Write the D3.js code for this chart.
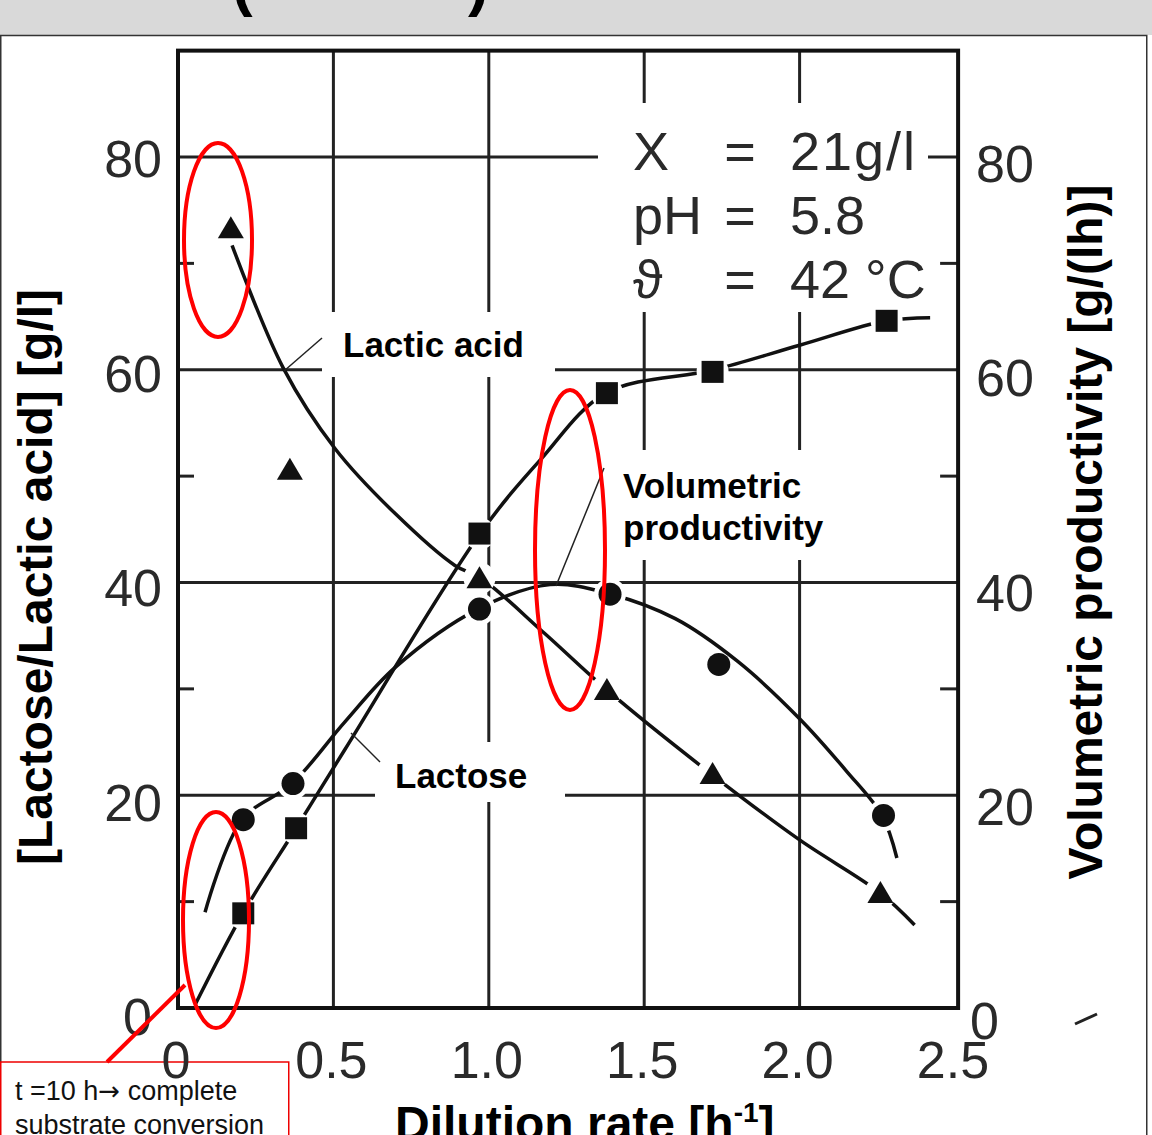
<!DOCTYPE html>
<html>
<head>
<meta charset="utf-8">
<script src="https://cdn.jsdelivr.net/npm/d3@7"></script>
<style>
  body { margin: 0; background: #fff; }
  svg { display: block; }
  .tick-label { font-family: "Liberation Sans", Arial, sans-serif; font-size: 52px; fill: #2a2a2a; }
  .cond { font-family: "Liberation Sans", Arial, sans-serif; font-size: 54px; fill: #2a2a2a; }
  .lbl { font-family: "Liberation Sans", Arial, sans-serif; font-weight: bold; font-size: 35px; fill: #000; }
  .title { font-family: "Liberation Sans", Arial, sans-serif; font-weight: bold; font-size: 48px; fill: #000; }
  .note { font-family: "Liberation Sans Narrow", "Liberation Sans", sans-serif; font-size: 27px; fill: #111; }
</style>
</head>
<body>
<script>
// measured points (dilution rate [1/h], value)
const lacticX = [0.17, 0.36, 0.97, 1.38, 1.72, 2.26]
const lacticY = [73.3, 50.6, 40.4, 29.9, 22.0, 10.8]
const lactoseX = [0.21, 0.38, 0.97, 1.38, 1.72, 2.28]
const lactoseY = [8.9, 16.9, 44.6, 57.8, 59.8, 64.6]
const prodX = [0.21, 0.37, 0.97, 1.39, 1.74, 2.27]
const prodY = [17.7, 21.1, 37.5, 38.9, 32.3, 18.1]
// points lying off the drawn curve (no line break around them)
const offCurve = ['0.36,50.6', '1.74,32.3']

// hand drawn fitting curves
const lacticCurveX = [0.174, 0.338, 0.505, 0.698, 0.891, 0.975, 1.18, 1.38, 1.72, 2.0, 2.26, 2.37]
const lacticCurveY = [71.7, 60.2, 52.6, 46.5, 41.6, 40.4, 35.2, 29.9, 21.9, 15.8, 10.8, 7.8]
const lactoseCurveX = [0.055, 0.209, 0.38, 0.537, 0.972, 1.165, 1.377, 1.725, 2.0, 2.278, 2.42]
const lactoseCurveY = [0.3, 8.9, 16.9, 24.3, 44.6, 51.5, 57.8, 60.0, 62.3, 64.6, 64.9]
const prodCurveX = [0.087, 0.206, 0.367, 0.537, 0.698, 0.965, 1.197, 1.393, 1.60, 1.80, 2.0, 2.15, 2.265, 2.313]
const prodCurveY = [9.0, 17.7, 21.1, 26.9, 32.0, 37.5, 39.8, 38.9, 36.6, 32.6, 27.2, 22.3, 18.1, 14.1]

const xTicks = [0, 0.5, 1.0, 1.5, 2.0, 2.5]
const xTickLabels = ['0', '0.5', '1.0', '1.5', '2.0', '2.5']
const yTicks = [0, 20, 40, 60, 80]
const yMinor = [10, 30, 50, 70]
const conditions = [['X', '=', '21g/l'], ['pH', '=', '5.8'], ['ϑ', '=', '42 °C']]

const W = 1152, H = 1135
const x = d3.scaleLinear().domain([0, 2.5]).range([178, 955])
const y = d3.scaleLinear().domain([0, 80]).range([1008, 157])
// scanned labels drift a bit downwards
const yLabL = d3.scaleLinear().domain([0, 80]).range([1016, 158])
const yLabR = d3.scaleLinear().domain([0, 80]).range([1020, 163])

const svg = d3.select('body').append('svg').attr('width', W).attr('height', H)

// slide header strip
svg.append('rect').attr('width', W).attr('height', 35).attr('fill', '#d9d9d9')
svg.append('text').attr('class', 'title').attr('x', 232).attr('y', 4).style('font-size', '62px').text('(')
svg.append('text').attr('class', 'title').attr('x', 468).attr('y', 4).style('font-size', '62px').text(')')
svg.append('rect').attr('x', 0.75).attr('y', 35.5).attr('width', 1146).attr('height', 1110)
  .attr('fill', '#fff').attr('stroke', '#333').attr('stroke-width', 1.5)

// red note box sits under the axis numbers
svg.append('rect').attr('x', 0.75).attr('y', 1062).attr('width', 288).attr('height', 90)
  .attr('fill', '#fff').attr('stroke', '#e00').attr('stroke-width', 1.5)

const plot = svg.append('g')
const grid = plot.append('g').attr('stroke', '#222').attr('stroke-width', 3)

// gridlines
grid.selectAll('.vg').data(xTicks.slice(1, 5)).enter().append('line')
  .attr('x1', d => x(d)).attr('x2', d => x(d)).attr('y1', y(90)).attr('y2', y(0))
grid.selectAll('.hg').data(yTicks.slice(1)).enter().append('line')
  .attr('x1', x(0)).attr('x2', x(2.51)).attr('y1', d => y(d)).attr('y2', d => y(d))
grid.selectAll('.ml').data(yMinor).enter().append('line')
  .attr('x1', x(0)).attr('x2', x(0) + 16).attr('y1', d => y(d)).attr('y2', d => y(d))
grid.selectAll('.mr').data(yMinor).enter().append('line')
  .attr('x1', x(2.51) - 18).attr('x2', x(2.51)).attr('y1', d => y(d)).attr('y2', d => y(d))

// white patches behind texts (as in the source figure)
const patches = [[598, 103, 330, 209], [322, 312, 233, 65], [600, 450, 240, 110], [375, 742, 190, 60]]
plot.selectAll('.patch').data(patches).enter().append('rect')
  .attr('x', d => d[0]).attr('y', d => d[1]).attr('width', d => d[2]).attr('height', d => d[3])
  .attr('fill', '#fff')

// frame
plot.append('rect').attr('x', x(0)).attr('y', y(90)).attr('width', x(2.51) - x(0)).attr('height', y(0) - y(90))
  .attr('fill', 'none').attr('stroke', '#111').attr('stroke-width', 4)

// curves
const line = d3.line().x(d => x(d[0])).y(d => y(d[1])).curve(d3.curveCatmullRom.alpha(0.5))
const curves = [d3.zip(lacticCurveX, lacticCurveY), d3.zip(lactoseCurveX, lactoseCurveY), d3.zip(prodCurveX, prodCurveY)]
plot.selectAll('.curve').data(curves).enter().append('path')
  .attr('d', line).attr('fill', 'none').attr('stroke', '#111').attr('stroke-width', 3.5)

// halos break the lines around markers
const allPts = [].concat(d3.zip(lacticX, lacticY), d3.zip(lactoseX, lactoseY), d3.zip(prodX, prodY))
  .filter(d => !offCurve.includes(d.join(',')))
plot.selectAll('.halo').data(allPts).enter().append('circle')
  .attr('cx', d => x(d[0])).attr('cy', d => y(d[1])).attr('r', 16).attr('fill', '#fff')

// markers
plot.selectAll('.tri').data(d3.zip(lacticX, lacticY)).enter().append('path')
  .attr('transform', d => `translate(${x(d[0])},${y(d[1])})`)
  .attr('d', 'M0,-12L13,10L-13,10Z').attr('fill', '#111')
plot.selectAll('.sq').data(d3.zip(lactoseX, lactoseY)).enter().append('rect')
  .attr('x', d => x(d[0]) - 11).attr('y', d => y(d[1]) - 11).attr('width', 22).attr('height', 22)
  .attr('fill', '#111')
plot.selectAll('.dot').data(d3.zip(prodX, prodY)).enter().append('circle')
  .attr('cx', d => x(d[0])).attr('cy', d => y(d[1])).attr('r', 11.5).attr('fill', '#111')

// tick labels
plot.selectAll('.xl').data(xTicks).enter().append('text').attr('class', 'tick-label')
  .attr('x', d => x(d) - 2).attr('y', 1078).attr('text-anchor', 'middle')
  .text((d, i) => xTickLabels[i])
plot.selectAll('.yl').data(yTicks).enter().append('text').attr('class', 'tick-label')
  .attr('x', d => d == 0 ? 152 : 162).attr('y', d => yLabL(d) + 19).attr('text-anchor', 'end')
  .text(d => d)
plot.selectAll('.yr').data(yTicks).enter().append('text').attr('class', 'tick-label')
  .attr('x', d => d == 0 ? 970 : 976).attr('y', d => yLabR(d) + 19)
  .text(d => d)

// experiment conditions
const cond = plot.append('g')
cond.selectAll('g').data(conditions).enter().append('g')
  .attr('transform', (d, i) => `translate(0,${170 + i * 64})`)
  .each(function (d, i) {
    const g = d3.select(this)
    g.append('text').attr('class', 'cond').attr('x', 633).text(d[0])
    g.append('text').attr('class', 'cond').attr('x', 740).attr('text-anchor', 'middle').text(d[1])
    g.append('text').attr('class', 'cond').attr('x', 790).style('letter-spacing', i == 0 ? '2px' : '0px').text(d[2])
  })

// series labels + leader lines
const leaders = [[322, 338, 284, 371], [604, 468, 556, 586], [380, 762, 351, 733]]
plot.selectAll('.lead').data(leaders).enter().append('line')
  .attr('x1', d => d[0]).attr('y1', d => d[1]).attr('x2', d => d[2]).attr('y2', d => d[3])
  .attr('stroke', '#222').attr('stroke-width', 1.5)
plot.append('text').attr('class', 'lbl').attr('x', 343).attr('y', 357).text('Lactic acid')
plot.append('text').attr('class', 'lbl').attr('x', 623).attr('y', 498).text('Volumetric')
plot.append('text').attr('class', 'lbl').attr('x', 623).attr('y', 540).text('productivity')
plot.append('text').attr('class', 'lbl').attr('x', 395).attr('y', 788).text('Lactose')

// axis titles
svg.append('text').attr('class', 'title').attr('text-anchor', 'middle')
  .attr('transform', 'translate(52,577) rotate(-90)').text('[Lactose/Lactic acid] [g/l]')
svg.append('text').attr('class', 'title').attr('text-anchor', 'middle')
  .attr('transform', 'translate(1102,532) rotate(-90)').text('Volumetric productivity [g/(lh)]')
const xt = svg.append('text').attr('class', 'title').attr('x', 395).attr('y', 1140)
xt.append('tspan').text('Dilution rate [h')
xt.append('tspan').attr('dy', -18).style('font-size', '28px').text('-1')
xt.append('tspan').attr('dy', 18).text(']')

// scan speck at the right
svg.append('line').attr('x1', 1075).attr('y1', 1024).attr('x2', 1097).attr('y2', 1014)
  .attr('stroke', '#222').attr('stroke-width', 3)

// red annotations
const ellipses = [[218, 240, 34, 97], [570, 550, 35, 160], [216, 920, 33, 108]]
svg.selectAll('.ell').data(ellipses).enter().append('ellipse')
  .attr('cx', d => d[0]).attr('cy', d => d[1]).attr('rx', d => d[2]).attr('ry', d => d[3])
  .attr('fill', 'none').attr('stroke', '#f00').attr('stroke-width', 4)
svg.append('line').attr('x1', 185).attr('y1', 985).attr('x2', 107).attr('y2', 1062)
  .attr('stroke', '#f00').attr('stroke-width', 4)
const n1 = svg.append('text').attr('class', 'note').attr('x', 15).attr('y', 1100)
n1.append('tspan').text('t =10 h')
n1.append('tspan').style('font-family', '"DejaVu Sans", sans-serif').style('font-size', '26px').text('→')
n1.append('tspan').text(' complete')
svg.append('text').attr('class', 'note').attr('x', 15).attr('y', 1134).text('substrate conversion')
</script>
</body>
</html>
